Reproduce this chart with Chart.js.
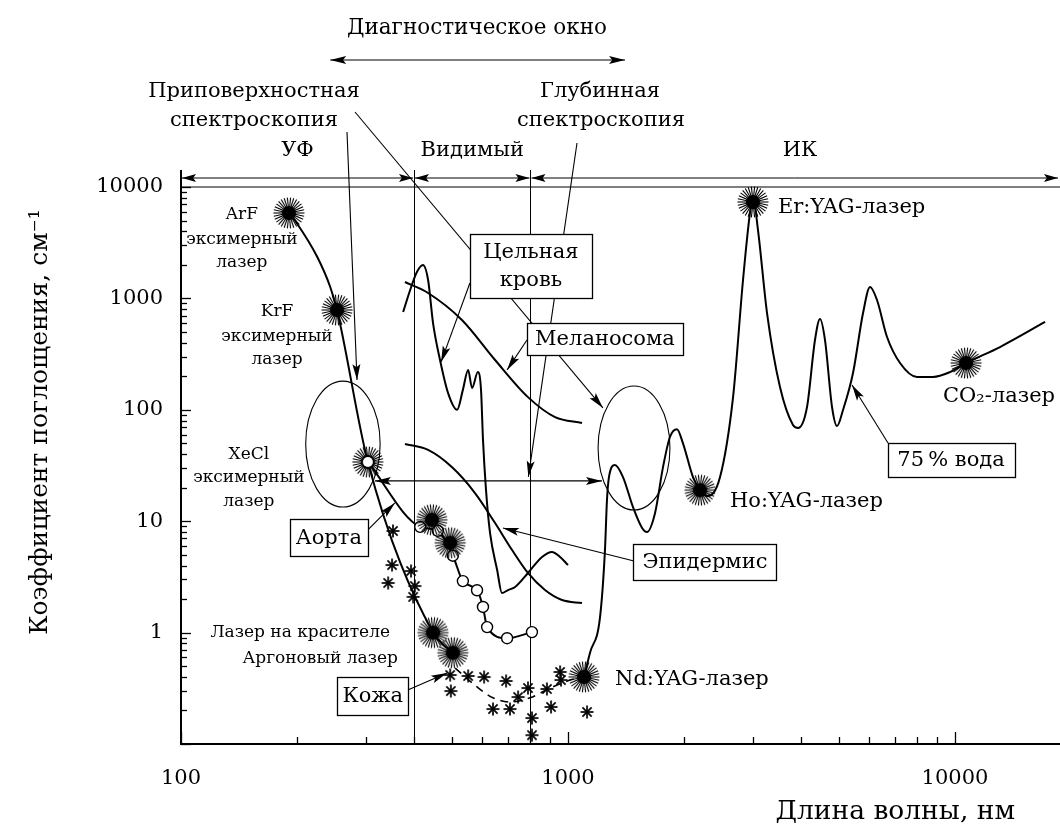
<!DOCTYPE html>
<html>
<head>
<meta charset="utf-8">
<script src="https://cdn.jsdelivr.net/npm/chart.js@4.4.1/dist/chart.umd.min.js"></script>
<style>
  html, body { margin: 0; padding: 0; background: #fff; overflow: hidden; width: 1060px; height: 830px; }
  #wrap { width: 1110px; height: 830px; position: relative; }
  #chart { display: block; }
</style>
</head>
<body>
<div id="wrap"><canvas id="chart"></canvas></div>
<script>
// ---------- absorption data (wavelength, nm -> absorption coefficient, cm^-1) ----------
const laserLineWl  = [190, 199, 225, 243, 253, 304, 448, 504];
const laserLineAbs = [5850, 4750, 2350, 1265, 787, 34, 1.0, 0.66];

const aortaWl  = [304, 415, 461, 504, 535, 582, 603, 618, 696, 807];
const aortaAbs = [34, 8.9, 8.2, 4.9, 2.9, 2.4, 1.7, 1.12, 0.89, 1.01];

const bloodWl  = [375, 391, 407, 422, 435, 448, 467, 490, 517, 535, 552, 565, 585, 596, 603, 614, 629, 656, 675, 700, 730, 788, 857, 909, 954, 1000];
const bloodAbs = [755, 1190, 1726, 1994, 1463, 601, 280, 141, 100, 151, 228, 157, 218, 151, 54, 19, 7.8, 3.65, 2.27, 2.41, 2.57, 3.43, 4.77, 5.29, 4.77, 4.04];

const melanoWl  = [379, 435, 532, 648, 788, 926, 1087];
const melanoAbs = [1403, 1118, 640, 280, 130, 86, 76];

const epidWl  = [379, 435, 501, 575, 648, 717, 788, 872, 965, 1087];
const epidAbs = [49.3, 43.6, 30.6, 17.9, 9.63, 5.51, 3.43, 2.41, 1.96, 1.84];

const skinCurveWl  = [511, 582, 640, 708, 798, 899, 1012, 1087];
const skinCurveAbs = [0.48, 0.325, 0.26, 0.238, 0.26, 0.318, 0.375, 0.40];

const skinPointWl  = [353, 351, 343, 393, 402, 398, 496, 498, 552, 607, 692, 640, 708, 743, 788, 807, 807, 882, 904, 954, 959, 1120];
const skinPointAbs = [8.17, 4.04, 2.79, 3.57, 2.62, 2.09, 0.416, 0.299, 0.408, 0.399, 0.368, 0.206, 0.206, 0.264, 0.318, 0.171, 0.120, 0.312, 0.215, 0.443, 0.375, 0.194];

const waterWl  = [1100, 1140, 1210, 1246, 1261, 1276, 1322, 1387, 1472, 1554, 1600, 1678, 1760, 1834, 1912, 1982, 2104, 2194, 2287, 2471, 2670, 2833, 2953, 3006, 3097, 3268, 3530, 3814, 3930, 4146, 4347, 4479, 4614, 4811, 4956, 5136, 5451, 5786, 6032, 6287, 6674, 7210, 7978, 8774, 9707, 10680, 13070, 17090];
const waterAbs = [0.40, 0.66, 1.38, 5.5, 15.5, 24.9, 31.9, 24.9, 13.4, 8.7, 8.0, 11.8, 30.6, 57, 67, 50, 24.9, 19.1, 16.8, 24.9, 130, 1463, 5845, 8000, 4111, 739, 160, 73, 68.7, 106, 423, 653, 423, 106, 71.5, 99.6, 214, 739, 1265, 967, 450, 263, 197, 197, 218, 263, 366, 614];

// laser lines: ArF, KrF, dye, argon, Nd:YAG, Ho:YAG, Er:YAG, CO2 and two marks on the aorta curve
const starWl  = [190, 253, 445, 496, 448, 504, 1100, 2194, 3006, 10680];
const starAbs = [5850, 787, 10.3, 6.4, 1.0, 0.66, 0.40, 19, 7340, 263];
const xeclWl  = [304];
const xeclAbs = [34];

// spectral bands and windows (nm)
const bandEdges = [100, 400, 800];
const bandNames = ['УФ', 'Видимый', 'ИК'];
const diagWindow = [243, 1404];

const xTickLabels = [100, 1000, 10000];
const yTickLabels = [1, 10, 100, 1000, 10000];

const pts = (xs, ys) => xs.map((x, i) => ({ x: x, y: ys[i] }));
const FONT = 'DejaVu Serif';
const VIEW_RIGHT = 1059;   // visible right edge of the page
const DECADE_PX = 387;     // horizontal length of one decade of wavelength

// ---------- marker images ----------
function makeBurst(hollow) {
  const c = document.createElement('canvas');
  c.width = c.height = 34;
  const g = c.getContext('2d');
  g.translate(17, 17);
  g.strokeStyle = '#000';
  g.lineWidth = 1.1;
  for (let i = 0; i < 30; i++) {
    const a = i * Math.PI * 2 / 30;
    g.beginPath();
    g.moveTo(Math.cos(a) * 4, Math.sin(a) * 4);
    g.lineTo(Math.cos(a) * 15.5, Math.sin(a) * 15.5);
    g.stroke();
  }
  g.beginPath(); g.arc(0, 0, 7, 0, Math.PI * 2); g.fillStyle = '#000'; g.fill();
  if (hollow) { g.beginPath(); g.arc(0, 0, 5, 0, Math.PI * 2); g.fillStyle = '#fff'; g.fill(); }
  return c;
}
function makeAsterisk() {
  const c = document.createElement('canvas');
  c.width = c.height = 16;
  const g = c.getContext('2d');
  g.translate(8, 8);
  g.strokeStyle = '#000';
  g.lineWidth = 1.7;
  for (let i = 0; i < 4; i++) {
    const a = i * Math.PI / 4;
    g.beginPath();
    g.moveTo(-Math.cos(a) * 6.5, -Math.sin(a) * 6.5);
    g.lineTo(Math.cos(a) * 6.5, Math.sin(a) * 6.5);
    g.stroke();
  }
  return c;
}
const burst = makeBurst(false);
const burstHollow = makeBurst(true);
const asterisk = makeAsterisk();

// ---------- annotations (anchors in data units, offsets in px) ----------
const laserLabels = [
  { at: [190, 5850], lines: ['ArF', 'эксимерный', 'лазер'], dx: -47, dy: [2, 27, 50], align: 'center', size: 17 },
  { at: [253, 787], lines: ['KrF', 'эксимерный', 'лазер'], dx: -60, dy: [2, 27, 50], align: 'center', size: 17 },
  { at: [304, 34], lines: ['XeCl', 'эксимерный', 'лазер'], dx: -119, dy: [-7, 16, 40], align: 'center', size: 17 },
  { at: [448, 1.0], lines: ['Лазер на красителе'], dx: -43, dy: [0], align: 'right', size: 17 },
  { at: [504, 0.66], lines: ['Аргоновый лазер'], dx: -55, dy: [6], align: 'right', size: 17 },
  { at: [1100, 0.40], lines: ['Nd:YAG-лазер'], dx: 31, dy: [3], align: 'left', size: 21 },
  { at: [2194, 19], lines: ['Ho:YAG-лазер'], dx: 30, dy: [11], align: 'left', size: 21 },
  { at: [3006, 7340], lines: ['Er:YAG-лазер'], dx: 25, dy: [6], align: 'left', size: 21 },
  { at: [10680, 263], lines: ['CO₂-лазер'], dx: -23, dy: [34], align: 'left', size: 21 }
];

const boxes = [
  { at: [802, 1954], w: 122, h: 64, lines: ['Цельная', 'кровь'], from: [-61, 17], tip: [470, 269] },
  { at: [1246, 432], w: 156, h: 32, lines: ['Меланосома'], from: [-78, 1], tip: [696, 228] },
  { at: [2259, 4.30], w: 143, h: 36, lines: ['Эпидермис'], from: [-71, -1], tip: [679, 8.69] },
  { at: [9766, 35.4], w: 127, h: 34, lines: ['75\u2009% вода'], from: [-63, -17], tip: [5419, 167] },
  { at: [241, 7.07], w: 78, h: 37, lines: ['Аорта'], from: [39, -8], tip: [357, 14.6] },
  { at: [313, 0.270], w: 71, h: 38, lines: ['Кожа'], from: [35, -6], tip: [487, 0.434] }
];

const ellipses = [
  { x: [210, 327], y: [13.4, 181] },
  { x: [1196, 1834], y: [12.6, 163.5] }
];

function arrowHead(ctx, x1, y1, x2, y2, len, hw) {
  const a = Math.atan2(y2 - y1, x2 - x1);
  ctx.beginPath();
  ctx.moveTo(x2, y2);
  ctx.lineTo(x2 - len * Math.cos(a) + hw * Math.sin(a), y2 - len * Math.sin(a) - hw * Math.cos(a));
  ctx.lineTo(x2 - len * 0.8 * Math.cos(a), y2 - len * 0.8 * Math.sin(a));
  ctx.lineTo(x2 - len * Math.cos(a) - hw * Math.sin(a), y2 - len * Math.sin(a) + hw * Math.cos(a));
  ctx.closePath();
  ctx.fill();
}
function arrow(ctx, x1, y1, x2, y2, both, len, hw) {
  len = len || 15; hw = hw || 4;
  ctx.beginPath(); ctx.moveTo(x1, y1); ctx.lineTo(x2, y2); ctx.stroke();
  arrowHead(ctx, x1, y1, x2, y2, len, hw);
  if (both) arrowHead(ctx, x2, y2, x1, y1, len, hw);
}

const decor = {
  id: 'decor',
  beforeDatasetsDraw(chart) {
    const ctx = chart.ctx, xs = chart.scales.x, ys = chart.scales.y, ca = chart.chartArea;
    const X = v => xs.getPixelForValue(v), Y = v => ys.getPixelForValue(v);
    ctx.save();
    ctx.strokeStyle = '#000'; ctx.fillStyle = '#000';

    // frame: heavy left and bottom axes, thin top rule
    ctx.lineWidth = 2;
    ctx.beginPath(); ctx.moveTo(ca.left, ca.top - 17); ctx.lineTo(ca.left, ca.bottom); ctx.lineTo(ca.right, ca.bottom); ctx.stroke();
    ctx.lineWidth = 1.2;
    ctx.beginPath(); ctx.moveTo(ca.left, ca.top); ctx.lineTo(ca.right, ca.top); ctx.stroke();

    // inward tick marks
    ctx.lineWidth = 1.3;
    for (let e = -1; e <= 4; e++) for (let k = 1; k <= 9; k++) {
      const v = k * Math.pow(10, e);
      if (v < ys.min * 0.999 || v > ys.max * 1.001) continue;
      const y = Math.round(Y(v)) + 0.5, len = k === 1 ? 10 : 6;
      ctx.beginPath(); ctx.moveTo(ca.left, y); ctx.lineTo(ca.left + len, y); ctx.stroke();
    }
    for (let e = 2; e <= 4; e++) for (let k = 1; k <= 9; k++) {
      const v = k * Math.pow(10, e);
      if (v < xs.min * 0.999 || v > xs.max * 1.001) continue;
      const x = Math.round(X(v)) + 0.5, len = k === 1 ? 12 : 7;
      ctx.beginPath(); ctx.moveTo(x, ca.bottom); ctx.lineTo(x, ca.bottom - len); ctx.stroke();
    }

    // band boundaries
    ctx.lineWidth = 1;
    [bandEdges[1], bandEdges[2]].forEach(v => {
      const x = Math.round(X(v)) + 0.5;
      ctx.beginPath(); ctx.moveTo(x, ca.top - 17); ctx.lineTo(x, ca.bottom); ctx.stroke();
    });

    // band arrows and names
    const by = ca.top - 9;
    const bx = [X(bandEdges[0]), X(bandEdges[1]), X(bandEdges[2]), Math.min(ca.right, VIEW_RIGHT)];
    ctx.lineWidth = 1;
    for (let i = 0; i < 3; i++) {
      const a = bx[i] + 1, b = bx[i + 1] - 1;
      arrow(ctx, a, by, b, by, true, 14, 4);
    }
    ctx.font = `21px "${FONT}"`;
    ctx.textAlign = 'center'; ctx.textBaseline = 'middle';
    for (let i = 0; i < 3; i++) {
      const cx = i < 2 ? (bx[i] + bx[i + 1]) / 2 : 800;
      ctx.fillText(bandNames[i], cx, ca.top - 36);
    }

    // diagnostic window
    ctx.font = `21.5px "${FONT}"`;
    ctx.fillText('Диагностическое окно', 477, 28);
    arrow(ctx, X(diagWindow[0]), 60, X(diagWindow[1]), 60, true, 16, 4);

    // surface / deep spectroscopy captions and leaders
    ctx.font = `21px "${FONT}"`;
    ctx.fillText('Приповерхностная', 254, 92);
    ctx.fillText('спектроскопия', 254, 121);
    ctx.fillText('Глубинная', 600, 92);
    ctx.fillText('спектроскопия', 601, 121);
    ctx.lineWidth = 1.1;
    arrow(ctx, 347, 132, X(285), Y(185), false, 16, 4);
    arrow(ctx, 355, 112, X(1231), Y(104), false, 16, 4);
    arrow(ctx, 577, 143, X(790), Y(25), false, 16, 4);

    // ellipses marking the two spectroscopy windows
    ctx.lineWidth = 1.1;
    ellipses.forEach(e => {
      const x0 = X(e.x[0]), x1 = X(e.x[1]), y0 = Y(e.y[1]), y1 = Y(e.y[0]);
      ctx.beginPath();
      ctx.ellipse((x0 + x1) / 2, (y0 + y1) / 2, (x1 - x0) / 2, (y1 - y0) / 2, 0, 0, Math.PI * 2);
      ctx.stroke();
    });
    arrow(ctx, X(317), Y(23), X(1224), Y(23), true, 16, 4);

    ctx.restore();
  },
  afterDatasetsDraw(chart) {
    const ctx = chart.ctx, xs = chart.scales.x, ys = chart.scales.y;
    const X = v => xs.getPixelForValue(v), Y = v => ys.getPixelForValue(v);
    ctx.save();
    ctx.fillStyle = '#000'; ctx.strokeStyle = '#000';
    ctx.textBaseline = 'middle';

    laserLabels.forEach(l => {
      ctx.font = `${l.size}px "${FONT}"`;
      ctx.textAlign = l.align;
      const x = X(l.at[0]) + l.dx, y = Y(l.at[1]);
      l.lines.forEach((t, i) => ctx.fillText(t, x, y + l.dy[i]));
    });

    boxes.forEach(b => {
      const cx = X(b.at[0]), cy = Y(b.at[1]);
      ctx.lineWidth = 1.1;
      arrow(ctx, cx + b.from[0], cy + b.from[1], X(b.tip[0]), Y(b.tip[1]), false, 16, 4);
      const l = Math.round(cx - b.w / 2) + 0.5, t = Math.round(cy - b.h / 2) + 0.5;
      ctx.fillStyle = '#fff';
      ctx.fillRect(l, t, b.w, b.h);
      ctx.lineWidth = 1.3;
      ctx.strokeRect(l, t, b.w, b.h);
      ctx.fillStyle = '#000';
      ctx.font = `21px "${FONT}"`;
      ctx.textAlign = 'center';
      const n = b.lines.length;
      b.lines.forEach((s, i) => ctx.fillText(s, cx, cy + (i - (n - 1) / 2) * 28 + 1));
    });

    // axis titles
    ctx.font = `26.5px "${FONT}"`;
    ctx.textAlign = 'right';
    ctx.fillText('Длина волны, нм', 1015, 812);
    ctx.save();
    ctx.translate(40, 422);
    ctx.rotate(-Math.PI / 2);
    ctx.textAlign = 'center';
    ctx.font = `25px "${FONT}"`;
    ctx.fillText('Коэффициент поглощения, см⁻¹', 0, 0);
    ctx.restore();

    ctx.restore();
  }
};

const isPow10 = v => { const l = Math.log10(v); return Math.abs(l - Math.round(l)) < 1e-9; };

const lineDs = (data, extra) => Object.assign({
  data: data, borderColor: '#000', borderWidth: 2, pointRadius: 0,
  cubicInterpolationMode: 'monotone', fill: false
}, extra || {});

const chart = new Chart(document.getElementById('chart'), {
  type: 'line',
  data: {
    datasets: [
      { data: pts(xeclWl, xeclAbs), showLine: false, pointStyle: burstHollow, pointRadius: 16, clip: false },
      { data: pts(starWl, starAbs), showLine: false, pointStyle: burst, pointRadius: 16, clip: false },
      lineDs(pts(aortaWl, aortaAbs), {
        pointRadius: aortaWl.map((v, i) => i === 0 ? 0 : 5.5), pointStyle: 'circle',
        pointBackgroundColor: '#fff', pointBorderColor: '#000', pointBorderWidth: 1.4
      }),
      { data: pts(skinPointWl, skinPointAbs), showLine: false, pointStyle: asterisk, pointRadius: 7, clip: false },
      lineDs(pts(skinCurveWl, skinCurveAbs), { borderDash: [8, 6], borderWidth: 1.6 }),
      lineDs(pts(laserLineWl, laserLineAbs)),
      lineDs(pts(bloodWl, bloodAbs)),
      lineDs(pts(melanoWl, melanoAbs)),
      lineDs(pts(epidWl, epidAbs)),
      lineDs(pts(waterWl, waterAbs))
    ]
  },
  options: {
    responsive: true,
    maintainAspectRatio: false,
    animation: false,
    events: [],
    layout: { padding: { top: 187, left: 0, right: 0, bottom: 0 } },
    plugins: { legend: { display: false }, tooltip: { enabled: false } },
    scales: {
      x: {
        type: 'logarithmic', min: 100, max: 30000,
        grid: { display: false, drawTicks: false }, border: { display: false },
        ticks: {
          autoSkip: false, maxRotation: 0, padding: 22, color: '#000',
          font: { family: FONT, size: 21 },
          callback: v => (isPow10(v) && xTickLabels.includes(Math.round(v))) ? String(Math.round(v)) : ''
        },
        afterFit: s => { s.height = 86; }
      },
      y: {
        type: 'logarithmic', min: 0.1, max: 10000,
        grid: { display: false, drawTicks: false }, border: { display: false },
        ticks: {
          autoSkip: false, padding: 18, color: '#000',
          font: { family: FONT, size: 21 },
          callback: v => (isPow10(v) && yTickLabels.includes(Math.round(v))) ? String(Math.round(v)) : ''
        },
        afterFit: s => { s.width = 181; }
      }
    }
  },
  plugins: [decor]
});

// keep a fixed decade length: the axis runs past the visible edge of the page
const ca = chart.chartArea;
chart.options.scales.x.max = Math.pow(10, 2 + (ca.right - ca.left) / DECADE_PX);
chart.update();
</script>
</body>
</html>
